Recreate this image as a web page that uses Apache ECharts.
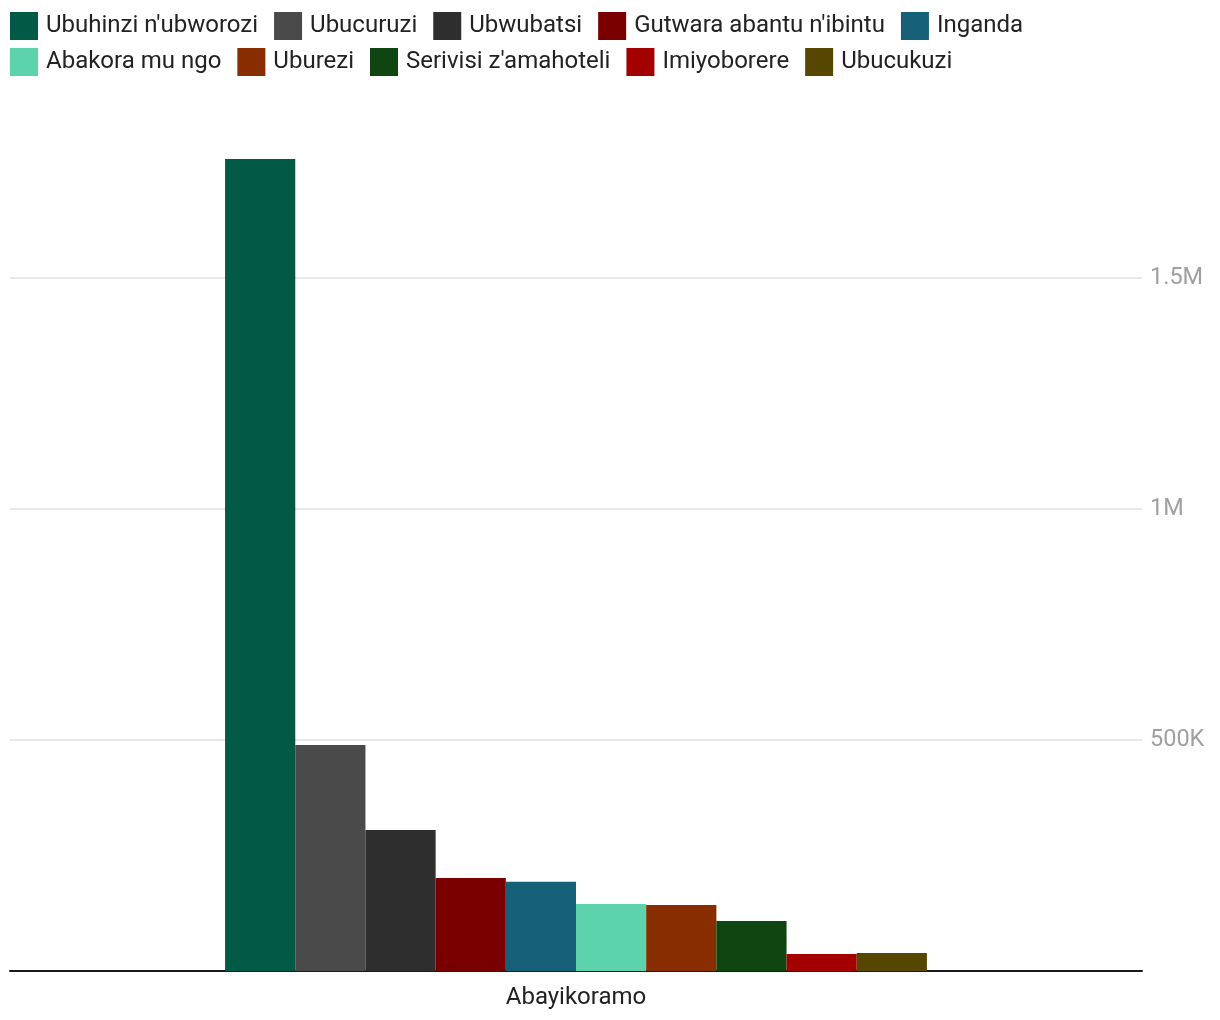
<!DOCTYPE html>
<html>
<head>
<meta charset="utf-8">
<script src="https://cdn.jsdelivr.net/npm/echarts@6/dist/echarts.min.js"></script>
<style>html,body{margin:0;padding:0;background:#fff}#c{width:1220px;height:1020px}</style>
</head>
<body>
<div id="c"></div>
<script>
var categories = ["Abayikoramo"];
var seriesNames = ["Ubuhinzi n'ubworozi","Ubucuruzi","Ubwubatsi","Gutwara abantu n'ibintu","Inganda","Abakora mu ngo","Uburezi","Serivisi z'amahoteli","Imiyoborere","Ubucukuzi"];
var seriesValues = [1757000, 489000, 305000, 201000, 193000, 145000, 143000, 108000, 37000, 39000];
var colors = ["#005a46","#4a4a4a","#2e2e2e","#7a0000","#17607a","#5dd3ad","#872d00","#0f4511","#a50000","#574600"];

var chart = echarts.init(document.getElementById('c'));
var legendCommon = {
  left: 10, padding: 0, itemWidth: 28, itemHeight: 28, itemGap: 16, icon: 'rect',
  textStyle: {fontFamily: 'Roboto', fontSize: 24, color: '#222', padding: [2,0,0,3]},
  selectedMode: false
};
chart.setOption({
  animation: false,
  color: colors,
  textStyle: {fontFamily: 'Roboto'},
  legend: [
    Object.assign({}, legendCommon, {top: 12, data: seriesNames.slice(0,5)}),
    Object.assign({}, legendCommon, {top: 48, data: seriesNames.slice(5)})
  ],
  grid: {left: 10, right: 78, top: 139, bottom: 49, containLabel: false},
  xAxis: {
    type: 'category', data: categories,
    axisLine: {lineStyle: {color: '#1a1a1a', width: 2}},
    axisTick: {show: false},
    axisLabel: {fontSize: 24, color: '#222', margin: 15, fontFamily: 'Roboto'}
  },
  yAxis: {
    type: 'value', position: 'right', min: 0, max: 1800000, interval: 500000,
    axisLine: {show: false}, axisTick: {show: false},
    splitLine: {lineStyle: {color: '#e2e2e2', width: 1.5}, showMaxLine: false, showMinLine: false},
    axisLabel: {
      fontSize: 23.5, color: '#a0a0a0', margin: 8, showMinLabel: false, showMaxLabel: false, fontFamily: 'Roboto',
      padding: [8,0,0,0],
      formatter: function(v){ if (v === 0) return ''; if (v >= 1000000) return (v/1000000) + 'M'; return (v/1000) + 'K'; }
    }
  },
  series: seriesNames.map(function(n, i){
    return {name: n, type: 'bar', data: [seriesValues[i]], barGap: 0, barCategoryGap: '38%'};
  })
});
</script>
</body>
</html>
